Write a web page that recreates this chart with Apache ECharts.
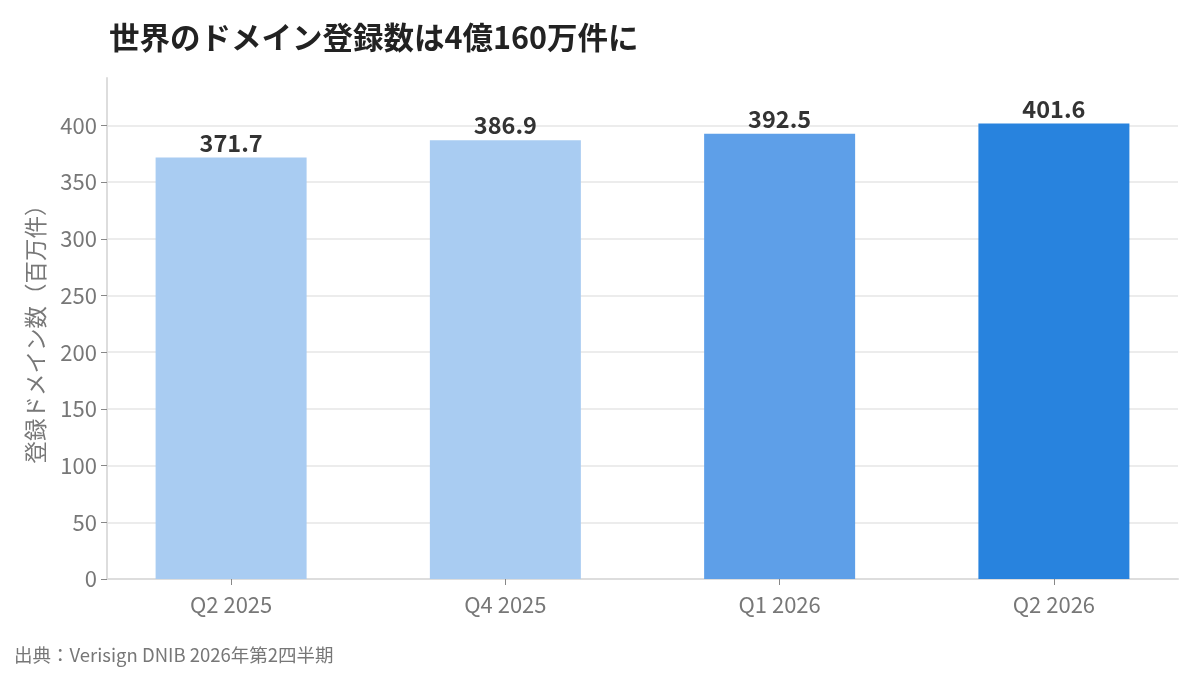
<!DOCTYPE html>
<html style="height: 100%">
<head>
    <meta charset="utf-8" />
    <title>世界のドメイン登録数</title>
    <script type="text/javascript" src="https://cdn.jsdelivr.net/npm/echarts@6.0.0/dist/echarts.min.js"></script>
</head>
<body style="height: 100%; margin: 0; background: #fff">
    <div id="container" style="width: 1200px; height: 675px"></div>
</body>
</html>
<script type="text/javascript">
    var categories = ['Q2 2025', 'Q4 2025', 'Q1 2026', 'Q2 2026'];
    var values = [371.7, 386.9, 392.5, 401.6];
    var barColors = ['#a9ccf2', '#a9ccf2', '#5e9fe8', '#2883de'];
    var yTicks = [0, 50, 100, 150, 200, 250, 300, 350, 400];

    var font = '"Noto Sans CJK JP", "Noto Sans", sans-serif';
    var xPos = categories.map(function (c, i) { return i; });

    var myChart = echarts.init(document.getElementById('container'));
    var option = {
        backgroundColor: '#fff',
        textStyle: { fontFamily: font },
        title: {
            text: '世界のドメイン登録数は4億160万件に',
            left: 104,
            top: 17,
            textStyle: { fontFamily: font, fontSize: 30.5, fontWeight: 'bold', color: '#222' }
        },
        graphic: [{
            type: 'text',
            left: 14,
            top: 646,
            style: { text: '出典：Verisign DNIB 2026年第2四半期', font: '18.5px ' + font, fill: '#777' }
        }],
        grid: { left: 107, right: 22, top: 78, bottom: 96 },
        xAxis: {
            type: 'value',
            min: -0.4525,
            max: 3.4525,
            splitLine: { show: false },
            axisLine: { show: true, onZero: false, lineStyle: { color: '#dddddd', width: 2 } },
            axisTick: { show: true, customValues: xPos, length: 6, lineStyle: { color: '#888' } },
            axisLabel: {
                customValues: xPos,
                formatter: function (v) { return categories[Math.round(v)]; },
                fontSize: 22, color: '#777', margin: 15, fontFamily: font
            }
        },
        yAxis: {
            type: 'value',
            min: 0,
            max: 441.76,
            name: '登録ドメイン数（百万件）',
            nameLocation: 'middle',
            nameGap: 60,
            nameTextStyle: { fontSize: 22.5, color: '#777', fontFamily: font },
            axisLine: { show: true, onZero: false, lineStyle: { color: '#dddddd', width: 2 } },
            axisTick: { show: true, customValues: yTicks, length: 6, lineStyle: { color: '#888' } },
            axisLabel: { customValues: yTicks, fontSize: 22, color: '#777', margin: 10, fontFamily: font },
            splitLine: { show: true, lineStyle: { color: '#e6e6e6', width: 1.5 } }
        },
        series: [{
            type: 'bar',
            barWidth: 151,
            data: values.map(function (v, i) {
                return { value: [i, v], itemStyle: { color: barColors[i] } };
            }),
            label: {
                show: true,
                position: 'top',
                distance: 3,
                formatter: function (p) { return p.value[1].toFixed(1); },
                fontSize: 23.5, fontWeight: 'bold', color: '#333', fontFamily: font
            }
        }]
    };
    myChart.setOption(option);
</script>
